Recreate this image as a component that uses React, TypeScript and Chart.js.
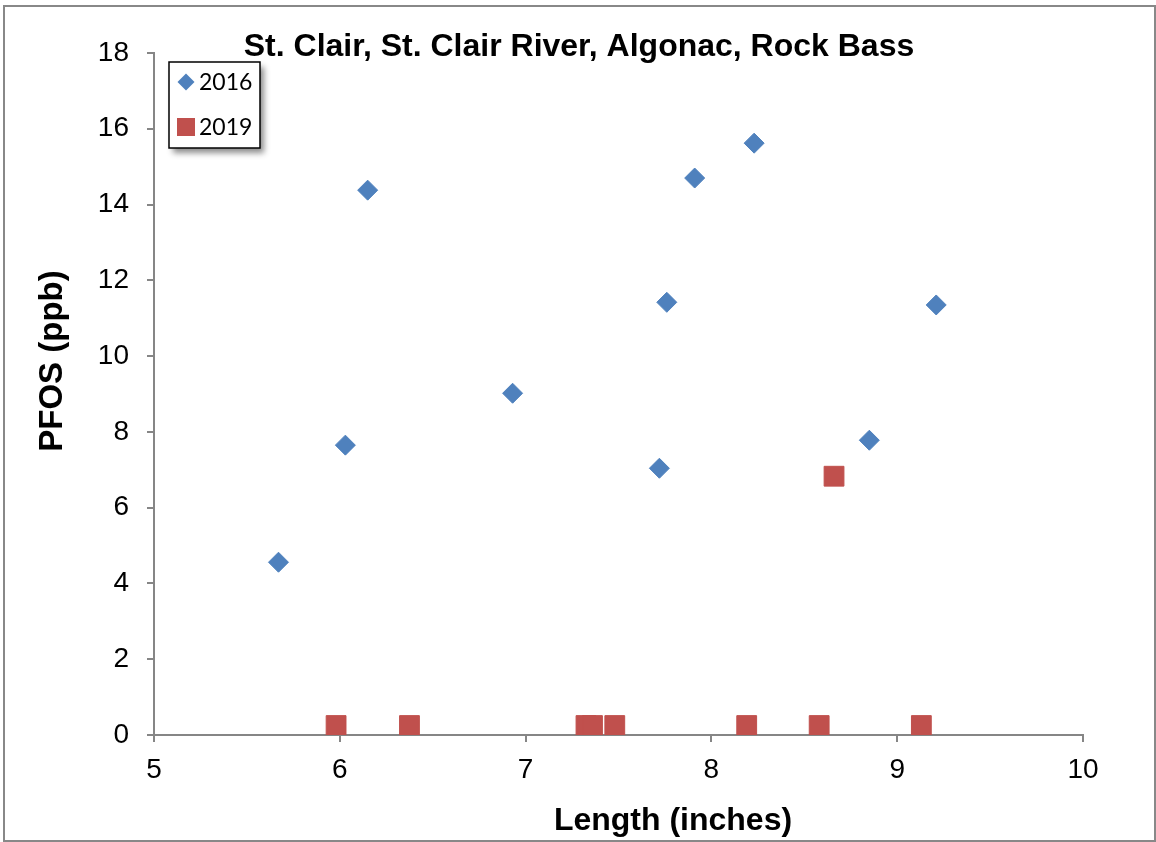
import React, { useEffect, useRef } from "react";
import { Chart, registerables } from "chart.js";

Chart.register(...registerables);

const chartTitle = "St. Clair, St. Clair River, Algonac, Rock Bass";
const xAxisTitle = "Length (inches)";
const yAxisTitle = "PFOS (ppb)";

const seriesNames = ["2016", "2019"];

const len2016 = [5.67, 6.03, 6.15, 6.93, 7.72, 7.76, 7.91, 8.23, 8.85, 9.21];
const pfos2016 = [4.56, 7.65, 14.38, 9.02, 7.04, 11.42, 14.7, 15.62, 7.78, 11.35];

const len2019 = [5.98, 6.375, 7.325, 7.36, 7.48, 8.19, 8.58, 9.13, 8.66];
const pfos2019 = [0.25, 0.25, 0.25, 0.25, 0.25, 0.25, 0.25, 0.25, 6.83];

const xMin = 5, xMax = 10, xStep = 1;
const yMin = 0, yMax = 18, yStep = 2;

const blue = "#4F81BD";
const red = "#C0504D";
const axisGray = "#868686";
const sans = '"Liberation Sans", Arial, sans-serif';

const toPoints = (xs: number[], ys: number[]) => xs.map((x, i) => ({ x, y: ys[i] }));

const overlayPlugin = {
  id: "overlay",
  afterDraw(chart: any) {
    const ctx = chart.ctx;
    ctx.save();
    ctx.fillStyle = "#000";
    // chart title
    ctx.font = "bold 32px " + sans;
    ctx.textAlign = "center";
    ctx.textBaseline = "alphabetic";
    ctx.fillText(chartTitle, 579, 56);

    // x axis title
    ctx.font = "bold 32px " + sans;
    ctx.fillText(xAxisTitle, 673, 830);

    // y axis title
    ctx.save();
    ctx.translate(62, 361);
    ctx.rotate(-Math.PI / 2);
    ctx.font = "bold 33px " + sans;
    ctx.textAlign = "center";
    ctx.textBaseline = "alphabetic";
    ctx.fillText(yAxisTitle, 0, 0);
    ctx.restore();

    // legend box
    const bx = 169, by = 62, bw = 91, bh = 86;
    ctx.shadowColor = "rgba(0,0,0,0.45)";
    ctx.shadowBlur = 6;
    ctx.shadowOffsetX = 4;
    ctx.shadowOffsetY = 5;
    ctx.fillStyle = "#fff";
    ctx.fillRect(bx, by, bw, bh);
    ctx.shadowColor = "transparent";
    ctx.shadowBlur = 0;
    ctx.shadowOffsetX = 0;
    ctx.shadowOffsetY = 0;
    ctx.strokeStyle = "#000";
    ctx.lineWidth = 1.5;
    ctx.strokeRect(bx, by, bw, bh);

    const ds = chart.data.datasets;
    const dx = 186, dy = 82, dr = 8.5;
    ctx.fillStyle = blue;
    ctx.beginPath();
    ctx.moveTo(dx - dr, dy);
    ctx.lineTo(dx, dy - dr);
    ctx.lineTo(dx + dr, dy);
    ctx.lineTo(dx, dy + dr);
    ctx.closePath();
    ctx.fill();
    ctx.fillStyle = red;
    ctx.fillRect(186 - 9, 127 - 9, 18, 18);

    ctx.fillStyle = "#000";
    ctx.font = '23px Lato, "Open Sans", sans-serif';
    ctx.textAlign = "left";
    ctx.textBaseline = "middle";
    ctx.fillText(ds[0].label, 199, 83);
    ctx.fillText(ds[1].label, 199, 128);
    ctx.restore();
  },
};

export default function App() {
  const ref = useRef<HTMLCanvasElement | null>(null);

  useEffect(() => {
    if (!ref.current) return;
    const chart = new Chart(ref.current, {
      type: "scatter",
      data: {
        datasets: [
          {
            label: seriesNames[0],
            data: toPoints(len2016, pfos2016),
            pointStyle: "rectRot",
            pointRadius: 10,
            pointHoverRadius: 10,
            backgroundColor: blue,
            borderColor: blue,
            borderWidth: 1,
          },
          {
            label: seriesNames[1],
            data: toPoints(len2019, pfos2019),
            pointStyle: "rect",
            pointRadius: 14,
            pointHoverRadius: 14,
            backgroundColor: red,
            borderColor: red,
            borderWidth: 1,
          },
        ],
      },
      options: {
        responsive: false,
        animation: false,
        events: [],
        layout: { padding: { top: 53, right: 73, left: 0, bottom: 0 } },
        plugins: {
          legend: { display: false },
          title: { display: false },
          tooltip: { enabled: false },
        },
        scales: {
          x: {
            type: "linear",
            min: xMin,
            max: xMax,
            ticks: {
              stepSize: xStep,
              color: "#000",
              padding: 11,
              font: { family: sans, size: 28 },
            },
            grid: {
              drawOnChartArea: false,
              drawTicks: true,
              tickLength: 7,
              color: axisGray,
              lineWidth: 2,
            },
            border: { color: axisGray, width: 2 },
            title: { display: false },
            afterFit(scale: any) {
              scale.height = 107;
            },
          },
          y: {
            type: "linear",
            min: yMin,
            max: yMax,
            ticks: {
              stepSize: yStep,
              color: "#000",
              padding: 18,
              font: { family: sans, size: 28 },
            },
            grid: {
              drawOnChartArea: false,
              drawTicks: true,
              tickLength: 7,
              color: axisGray,
              lineWidth: 2,
            },
            border: { color: axisGray, width: 2 },
            title: { display: false },
            afterFit(scale: any) {
              scale.width = 154;
            },
          },
        },
      },
      plugins: [overlayPlugin],
    } as any);
    return () => chart.destroy();
  }, []);

  return (
    <div style={{ position: "absolute", left: 0, top: 0, width: 1156, height: 842, background: "#fff" }}>
      <canvas ref={ref} width={1156} height={842} style={{ position: "absolute", left: 0, top: 0, width: 1156, height: 842 }} />
      <div
        style={{
          position: "absolute",
          left: 3,
          top: 5,
          width: 1153,
          height: 837,
          boxSizing: "border-box",
          border: "2px solid #888888",
          pointerEvents: "none",
        }}
      />
    </div>
  );
}
